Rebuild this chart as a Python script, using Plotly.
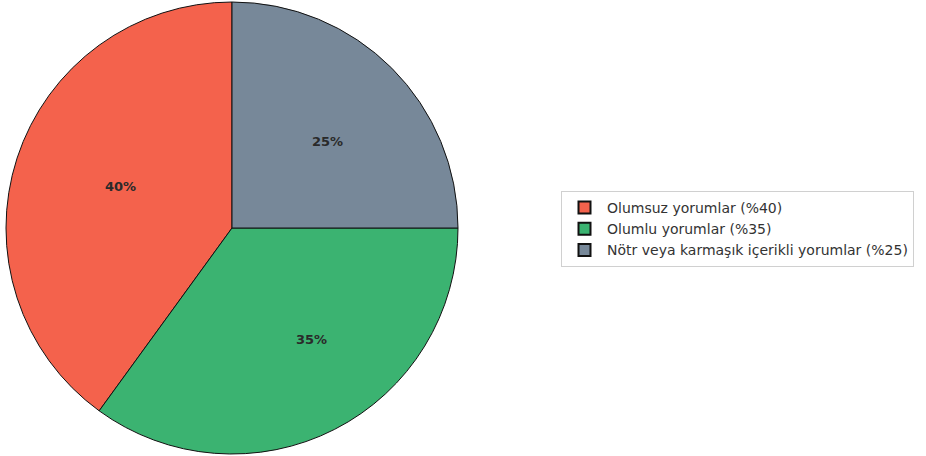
import math
import plotly.graph_objects as go

# Share of comments by sentiment
labels = ["Olumsuz yorumlar (%40)", "Olumlu yorumlar (%35)",
          "Nötr veya karmaşık içerikli yorumlar (%25)"]
values = [40, 35, 25]
colors = ["#f4624c", "#3bb371", "#778899"]

W, H = 926, 456
cx, cy, r = 232, 228, 226  # pie centre and radius in pixels

fig = go.Figure(go.Pie(
    labels=labels,
    values=values,
    sort=False,
    direction="counterclockwise",
    rotation=216,
    marker=dict(colors=colors, line=dict(color="#111111", width=1)),
    textinfo="none",
    hoverinfo="label+percent",
    domain=dict(x=[(cx - r) / W, (cx + r) / W], y=[(H - cy - r) / H, (H - cy + r) / H]),
))

# Percentage labels at 0.6 of the radius, mid-angle of each slice (counterclockwise from 12 o'clock)
total = sum(values)
start = 90.0
annotations = []
for v in values:
    sweep = 360.0 * v / total
    mid = math.radians(start + sweep / 2)
    px = cx + 0.6 * r * math.cos(mid)
    py = cy - 0.6 * r * math.sin(mid)
    annotations.append(dict(
        x=px / W, y=1 - py / H, xref="paper", yref="paper",
        text=f"<b>{round(100 * v / total)}%</b>", showarrow=False,
        font=dict(family="DejaVu Sans", size=13, color="#2a2a2a"),
    ))
    start += sweep

fig.update_layout(
    width=W, height=H,
    margin=dict(l=0, r=0, t=0, b=0),
    paper_bgcolor="white",
    plot_bgcolor="white",
    annotations=annotations,
    showlegend=True,
    legend=dict(
        x=561 / W, y=1 - 191 / H, xanchor="left", yanchor="top",
        font=dict(family="DejaVu Sans", size=14, color="#333333"),
        bgcolor="white", bordercolor="#d0d0d0", borderwidth=1,
        tracegroupgap=0, itemsizing="constant", itemwidth=35,
    ),
)

fig.write_html("out.html")
